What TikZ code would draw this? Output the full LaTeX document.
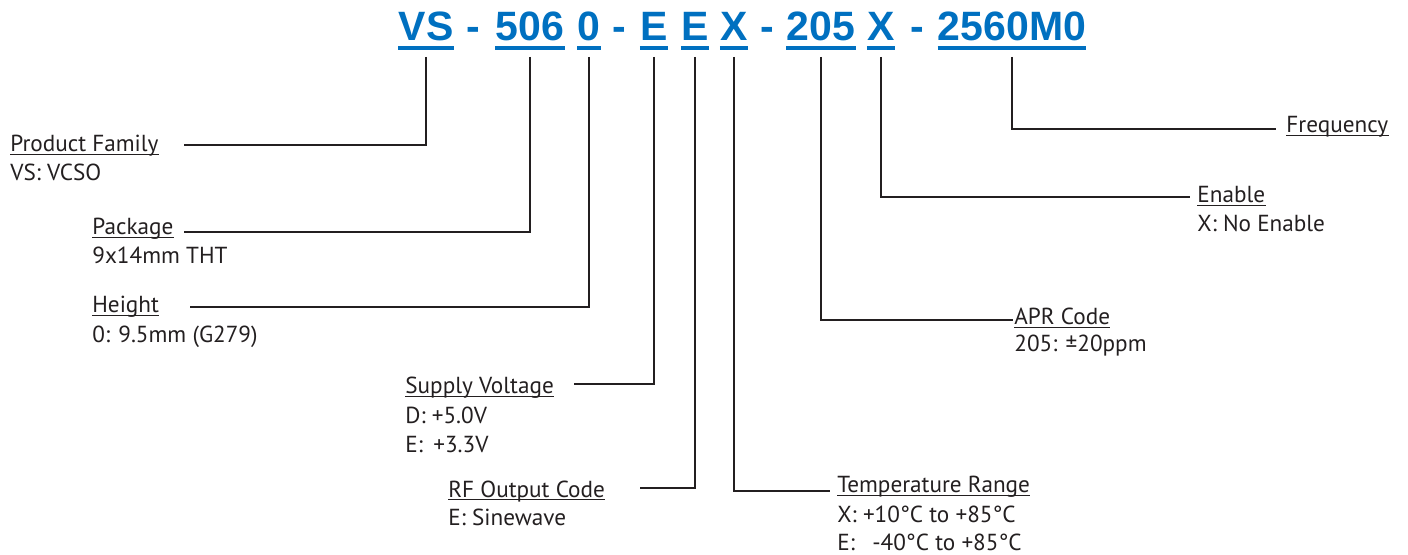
\documentclass[tikz,border=0pt]{standalone}
\usepackage{fontspec}
\setmainfont{PT Sans}
\newfontfamily\codefont{Liberation Sans}
\usetikzlibrary{positioning}
\definecolor{pnblue}{RGB}{0,112,192}
\definecolor{pnink}{RGB}{35,31,32}
\tikzset{
  code/.style={font=\codefont\bfseries\fontsize{20.5}{24}\selectfont,text=pnblue,inner sep=0pt,anchor=base},
  head/.style={font=\fontsize{11.6}{14}\selectfont,text=pnink,inner sep=0pt,anchor=base west},
  desc/.style={head},
  codeline/.style={draw=pnblue,line width=2pt},
  headline/.style={draw=pnink,line width=.6pt},
  leader/.style={draw=pnink,line width=1.3pt},
}

\begin{document}
\begin{tikzpicture}[x=.5pt,y=-.5pt]
  \useasboundingbox (0,0) rectangle (1408,555);
  % part number
  \node[code] (vs)  at (426,41)  {VS};
  \node[code] (d1)  at (473,41)  {-};
  \node[code] (pkg) at (530,41)  {506};
  \node[code] (hgt) at (589,41)  {0};
  \node[code] (d2)  at (619,41)  {-};
  \node[code] (sup) at (654,41)  {E};
  \node[code] (rfo) at (695,41)  {E};
  \node[code] (tmp) at (734,41)  {X};
  \node[code] (d3)  at (767,41)  {-};
  \node[code] (apr) at (821,41)  {205};
  \node[code] (ena) at (881,41)  {X};
  \node[code] (d4)  at (917,41)  {-};
  \node[code] (frq) at (1012,41) {2560M0};
  \foreach \n in {vs,pkg,hgt,sup,rfo,tmp,apr,ena,frq}
    \draw[codeline] ([yshift=-3.5pt]\n.base west) -- ([yshift=-3.5pt]\n.base east);

  % field names
  \node[head] (famhead) at (10,152)   {Product Family};
  \node[head] (pkghead) at (92,235)   {Package};
  \node[head] (hgthead) at (92,313)   {Height};
  \node[head] (suphead) at (405,394)  {Supply Voltage};
  \node[head] (rfohead) at (448,497)  {RF Output Code};
  \node[head] (tmphead) at (837,493)  {Temperature Range};
  \node[head] (aprhead) at (1014,325) {APR Code};
  \node[head] (enahead) at (1197,203) {Enable};
  \node[head] (frqhead) at (1286,133) {Frequency};
  \foreach \n in {famhead,pkghead,hgthead,suphead,rfohead,tmphead,aprhead,enahead,frqhead}
    \draw[headline] ([yshift=-1.2pt]\n.base west) -- ([yshift=-1.2pt]\n.base east);

  % field values
  \node[desc] (famval)  at ([yshift=-14.3pt]famhead.base west) {VS: VCSO};
  \node[desc] (pkgval)  at ([yshift=-14.5pt]pkghead.base west) {9x14mm THT};
  \node[desc] (hgtval)  at ([yshift=-14.8pt]hgthead.base west) {0: 9.5mm (G279)};
  \node[desc] (supval1) at ([yshift=-14.5pt]suphead.base west) {D: +5.0V};
  \node[desc] (supval2) at ([yshift=-14.5pt]supval1.base west) {E:\hspace{.45em}+3.3V};
  \node[desc] (rfoval)  at ([yshift=-14pt]rfohead.base west)   {E: Sinewave};
  \node[desc] (tmpval1) at ([yshift=-14.5pt]tmphead.base west) {X: +10°C to +85°C};
  \node[desc] (tmpval2) at ([yshift=-14pt]tmpval1.base west)   {E:\hspace{.75em}-40°C to +85°C};
  \node[desc] (aprval)  at ([yshift=-13.5pt]aprhead.base west) {205: ±20ppm};
  \node[desc] (enaval)  at ([yshift=-14.5pt]enahead.base west) {X: No Enable};

  % leader lines
  \coordinate (famend) at (184,145);
  \coordinate (pkgend) at (184,232);
  \coordinate (hgtend) at (190,307);
  \coordinate (supend) at (574,384);
  \coordinate (rfoend) at (640,488);
  \coordinate (tmpend) at (830,491);
  \coordinate (aprend) at (1013,320);
  \coordinate (enaend) at (1190,197);
  \coordinate (frqend) at (1276,129);
  \foreach \c/\e in {vs/fam,pkg/pkg,hgt/hgt,sup/sup,rfo/rfo,tmp/tmp,apr/apr,ena/ena,frq/frq}
    \draw[leader] ([yshift=-8pt]\c.base) |- (\e end);
\end{tikzpicture}
\end{document}
